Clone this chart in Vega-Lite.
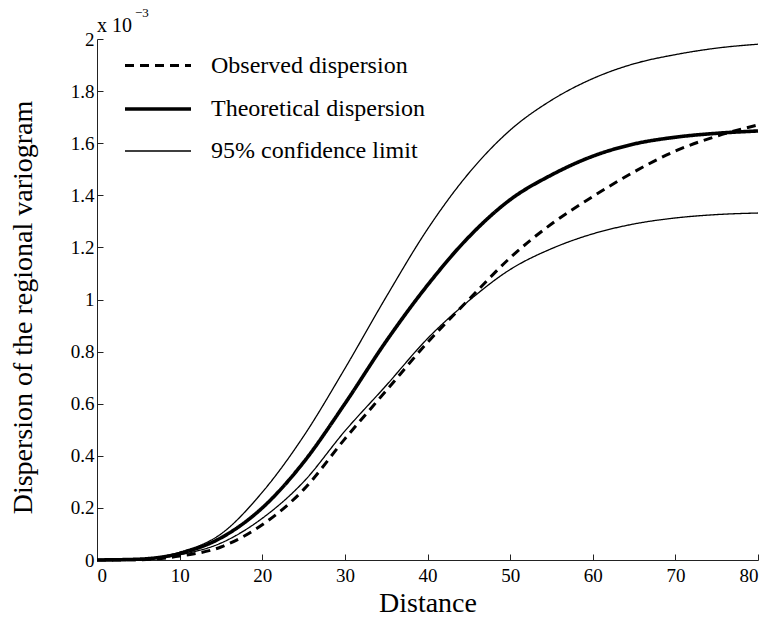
{
  "$schema": "https://vega.github.io/schema/vega-lite/v6.json",
  "width": 661,
  "height": 521,
  "autosize": {"type": "none"},
  "padding": {"left": 97, "top": 39, "right": 23, "bottom": 69},
  "background": "white",
  "config": {
    "view": {"stroke": null},
    "font": "Liberation Serif",
    "axis": {"grid": false, "domainColor": "#222", "tickColor": "#222", "labelColor": "#000", "titleColor": "#000", "labelFont": "Liberation Serif", "titleFont": "Liberation Serif", "labelFontSize": 19, "titleFontSize": 28, "titleFontWeight": "normal", "tickSize": -6, "domainWidth": 1, "tickWidth": 1},
    "legend": {"orient": "none", "legendX": 48, "legendY": 14, "symbolType": "M-3,0H3", "symbolSize": 484, "symbolStrokeColor": "black", "labelFont": "Liberation Serif", "labelFontSize": 24, "labelColor": "#000", "labelOffset": 40, "rowPadding": 18, "labelLimit": 400}
  },
  "datasets": {
    "curves": [
      {"d": 0, "v": 0, "curve": "upper", "series": "95% confidence limit"},
      {"d": 5, "v": 0.004, "curve": "upper", "series": "95% confidence limit"},
      {"d": 10, "v": 0.03, "curve": "upper", "series": "95% confidence limit"},
      {"d": 15, "v": 0.1, "curve": "upper", "series": "95% confidence limit"},
      {"d": 20, "v": 0.26, "curve": "upper", "series": "95% confidence limit"},
      {"d": 25, "v": 0.475, "curve": "upper", "series": "95% confidence limit"},
      {"d": 30, "v": 0.735, "curve": "upper", "series": "95% confidence limit"},
      {"d": 35, "v": 1.01, "curve": "upper", "series": "95% confidence limit"},
      {"d": 40, "v": 1.27, "curve": "upper", "series": "95% confidence limit"},
      {"d": 45, "v": 1.485, "curve": "upper", "series": "95% confidence limit"},
      {"d": 50, "v": 1.65, "curve": "upper", "series": "95% confidence limit"},
      {"d": 55, "v": 1.765, "curve": "upper", "series": "95% confidence limit"},
      {"d": 60, "v": 1.848, "curve": "upper", "series": "95% confidence limit"},
      {"d": 65, "v": 1.905, "curve": "upper", "series": "95% confidence limit"},
      {"d": 70, "v": 1.94, "curve": "upper", "series": "95% confidence limit"},
      {"d": 75, "v": 1.965, "curve": "upper", "series": "95% confidence limit"},
      {"d": 80, "v": 1.98, "curve": "upper", "series": "95% confidence limit"},
      {"d": 0, "v": 0, "curve": "theo", "series": "Theoretical dispersion"},
      {"d": 5, "v": 0.003, "curve": "theo", "series": "Theoretical dispersion"},
      {"d": 10, "v": 0.025, "curve": "theo", "series": "Theoretical dispersion"},
      {"d": 15, "v": 0.085, "curve": "theo", "series": "Theoretical dispersion"},
      {"d": 20, "v": 0.2, "curve": "theo", "series": "Theoretical dispersion"},
      {"d": 25, "v": 0.375, "curve": "theo", "series": "Theoretical dispersion"},
      {"d": 30, "v": 0.6, "curve": "theo", "series": "Theoretical dispersion"},
      {"d": 35, "v": 0.84, "curve": "theo", "series": "Theoretical dispersion"},
      {"d": 40, "v": 1.055, "curve": "theo", "series": "Theoretical dispersion"},
      {"d": 45, "v": 1.24, "curve": "theo", "series": "Theoretical dispersion"},
      {"d": 50, "v": 1.383, "curve": "theo", "series": "Theoretical dispersion"},
      {"d": 55, "v": 1.478, "curve": "theo", "series": "Theoretical dispersion"},
      {"d": 60, "v": 1.55, "curve": "theo", "series": "Theoretical dispersion"},
      {"d": 65, "v": 1.597, "curve": "theo", "series": "Theoretical dispersion"},
      {"d": 70, "v": 1.623, "curve": "theo", "series": "Theoretical dispersion"},
      {"d": 75, "v": 1.638, "curve": "theo", "series": "Theoretical dispersion"},
      {"d": 80, "v": 1.647, "curve": "theo", "series": "Theoretical dispersion"},
      {"d": 0, "v": 0, "curve": "lower", "series": "95% confidence limit"},
      {"d": 5, "v": 0.002, "curve": "lower", "series": "95% confidence limit"},
      {"d": 10, "v": 0.02, "curve": "lower", "series": "95% confidence limit"},
      {"d": 15, "v": 0.065, "curve": "lower", "series": "95% confidence limit"},
      {"d": 20, "v": 0.16, "curve": "lower", "series": "95% confidence limit"},
      {"d": 25, "v": 0.3, "curve": "lower", "series": "95% confidence limit"},
      {"d": 30, "v": 0.495, "curve": "lower", "series": "95% confidence limit"},
      {"d": 35, "v": 0.67, "curve": "lower", "series": "95% confidence limit"},
      {"d": 40, "v": 0.85, "curve": "lower", "series": "95% confidence limit"},
      {"d": 45, "v": 0.995, "curve": "lower", "series": "95% confidence limit"},
      {"d": 50, "v": 1.115, "curve": "lower", "series": "95% confidence limit"},
      {"d": 55, "v": 1.195, "curve": "lower", "series": "95% confidence limit"},
      {"d": 60, "v": 1.252, "curve": "lower", "series": "95% confidence limit"},
      {"d": 65, "v": 1.29, "curve": "lower", "series": "95% confidence limit"},
      {"d": 70, "v": 1.313, "curve": "lower", "series": "95% confidence limit"},
      {"d": 75, "v": 1.326, "curve": "lower", "series": "95% confidence limit"},
      {"d": 80, "v": 1.332, "curve": "lower", "series": "95% confidence limit"},
      {"d": 0, "v": 0, "curve": "obs", "series": "Observed dispersion"},
      {"d": 5, "v": 0.001, "curve": "obs", "series": "Observed dispersion"},
      {"d": 10, "v": 0.015, "curve": "obs", "series": "Observed dispersion"},
      {"d": 15, "v": 0.05, "curve": "obs", "series": "Observed dispersion"},
      {"d": 20, "v": 0.135, "curve": "obs", "series": "Observed dispersion"},
      {"d": 25, "v": 0.27, "curve": "obs", "series": "Observed dispersion"},
      {"d": 30, "v": 0.465, "curve": "obs", "series": "Observed dispersion"},
      {"d": 35, "v": 0.65, "curve": "obs", "series": "Observed dispersion"},
      {"d": 40, "v": 0.835, "curve": "obs", "series": "Observed dispersion"},
      {"d": 45, "v": 1.0, "curve": "obs", "series": "Observed dispersion"},
      {"d": 50, "v": 1.16, "curve": "obs", "series": "Observed dispersion"},
      {"d": 55, "v": 1.29, "curve": "obs", "series": "Observed dispersion"},
      {"d": 60, "v": 1.395, "curve": "obs", "series": "Observed dispersion"},
      {"d": 65, "v": 1.49, "curve": "obs", "series": "Observed dispersion"},
      {"d": 70, "v": 1.57, "curve": "obs", "series": "Observed dispersion"},
      {"d": 75, "v": 1.627, "curve": "obs", "series": "Observed dispersion"},
      {"d": 80, "v": 1.67, "curve": "obs", "series": "Observed dispersion"}
    ],
    "labels": [{"t": "x 10", "s": "\u22123"}]
  },
  "layer": [
    {
      "data": {"name": "curves"},
      "mark": {"type": "line", "interpolate": "monotone", "color": "black", "strokeCap": "butt"},
      "encoding": {
        "x": {"field": "d", "type": "quantitative", "scale": {"domain": [0, 80], "nice": false}, "axis": {"values": [0, 10, 20, 30, 40, 50, 60, 70, 80], "title": "Distance", "labelFont": "Liberation Serif", "titleFont": "Liberation Serif", "labelPadding": 12, "titleY": 43, "titleBaseline": "middle"}},
        "y": {"field": "v", "type": "quantitative", "scale": {"domain": [0, 2], "nice": false}, "axis": {"values": [0, 0.2, 0.4, 0.6, 0.8, 1, 1.2, 1.4, 1.6, 1.8, 2], "format": "~g", "title": "Dispersion of the regional variogram", "labelFont": "Liberation Serif", "titleFont": "Liberation Serif", "labelPadding": 9, "titleX": -74, "titleY": 268, "titleBaseline": "middle"}},
        "detail": {"field": "curve"},
        "strokeDash": {"field": "series", "type": "nominal", "scale": {"domain": ["Observed dispersion", "Theoretical dispersion", "95% confidence limit"], "range": [[9, 6], [1, 0], [1, 0]]}, "legend": {"title": null}},
        "strokeWidth": {"field": "series", "type": "nominal", "scale": {"type": "ordinal", "domain": ["Observed dispersion", "Theoretical dispersion", "95% confidence limit"], "range": [3, 3.6, 1.3]}, "legend": {"title": null}}
      }
    },
    {
      "data": {"name": "labels"},
      "mark": {"type": "text", "align": "left", "baseline": "alphabetic", "fontSize": 20, "font": "Liberation Serif", "dx": 0, "dy": -7, "color": "black"},
      "encoding": {"x": {"datum": 0, "type": "quantitative"}, "y": {"datum": 2, "type": "quantitative"}, "text": {"field": "t"}}
    },
    {
      "data": {"name": "labels"},
      "mark": {"type": "text", "align": "left", "baseline": "alphabetic", "fontSize": 13, "font": "Liberation Serif", "dx": 38, "dy": -22, "color": "black"},
      "encoding": {"x": {"datum": 0, "type": "quantitative"}, "y": {"datum": 2, "type": "quantitative"}, "text": {"field": "s"}}
    }
  ]
}
